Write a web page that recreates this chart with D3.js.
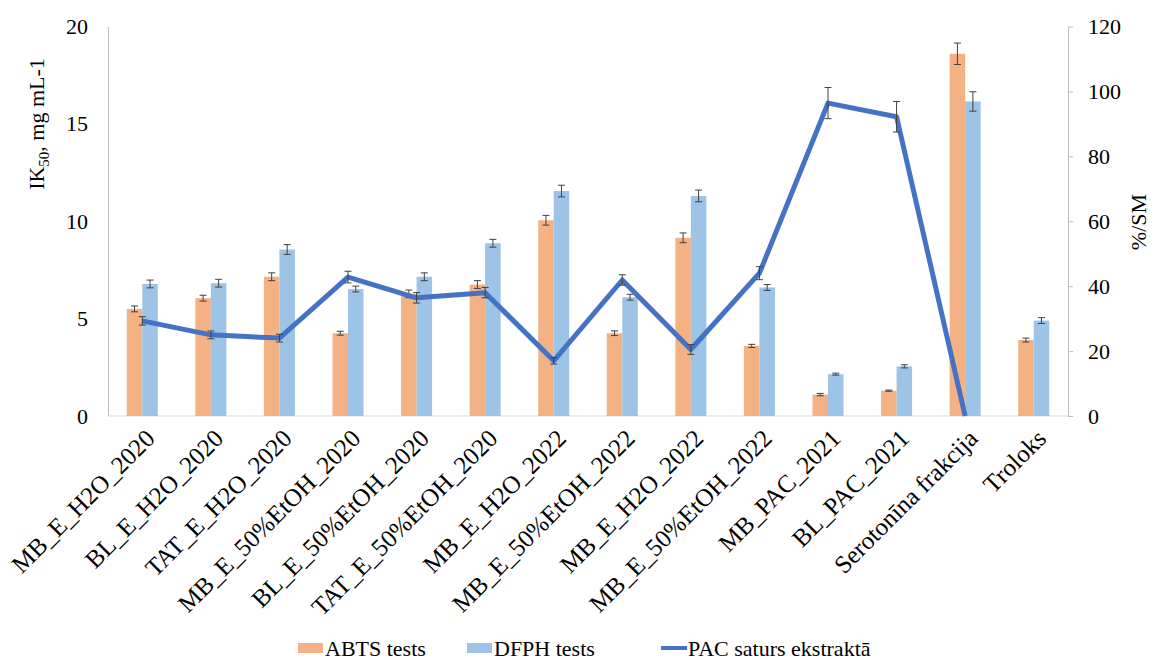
<!DOCTYPE html>
<html>
<head>
<meta charset="utf-8">
<script src="https://cdn.jsdelivr.net/npm/d3@7"></script>
<style>
  body { margin: 0; background: #fff; }
  svg text { font-family: "Liberation Serif", "Times New Roman", serif; fill: #000; }
</style>
</head>
<body>
<div id="chart"></div>
<script>
// data
var categories = ["MB_E_H2O_2020", "BL_E_H2O_2020", "TAT_E_H2O_2020", "MB_E_50%EtOH_2020",
  "BL_E_50%EtOH_2020", "TAT_E_50%EtOH_2020", "MB_E_H2O_2022", "MB_E_50%EtOH_2022",
  "MB_E_H2O_2022 ", "MB_E_50%EtOH_2022 ", "MB_PAC_2021", "BL_PAC_2021",
  "Serotonīna frakcija", "Troloks"];
var abts = [5.5, 6.05, 7.15, 4.25, 6.27, 6.75, 10.05, 4.25, 9.15, 3.6, 1.1, 1.3, 18.6, 3.9];
var abtsErr = [0.15, 0.15, 0.2, 0.1, 0.2, 0.2, 0.25, 0.12, 0.25, 0.08, 0.06, 0.03, 0.55, 0.1];
var dfph = [6.78, 6.82, 8.55, 6.52, 7.15, 8.87, 11.55, 6.1, 11.3, 6.6, 2.15, 2.55, 16.15, 4.9];
var dfphErr = [0.2, 0.2, 0.25, 0.15, 0.2, 0.2, 0.3, 0.15, 0.3, 0.15, 0.05, 0.08, 0.5, 0.15];
var pac = [29.3, 25, 24, 42.8, 36.4, 38, 17, 41.9, 20.5, 44, 96.4, 92.2, 0, null];
var pacErr = [1.3, 1.2, 1.2, 1.8, 1.6, 1.6, 1, 1.6, 1.5, 2, 4.8, 4.7, 0, null];
var leftTicks = [0, 5, 10, 15, 20];
var rightTicks = [0, 20, 40, 60, 80, 100, 120];

var W = 1154, H = 660;
var margin = {top: 26.5, right: 86, bottom: 244, left: 108};
var width = W - margin.left - margin.right;
var height = H - margin.top - margin.bottom;
var serif = '"Liberation Serif", "Times New Roman", serif';

var orange = "#F4B183", blue = "#9DC3E6", lineBlue = "#4472C4", errCol = "#404040";

var svg = d3.select("#chart").append("svg")
    .attr("width", W)
    .attr("height", H)
    .attr("font-family", serif);
var g = svg.append("g")
    .attr("transform", "translate(" + margin.left + "," + margin.top + ")");

var x = d3.scaleBand().domain(categories).range([0, width]).padding(0);
var y = d3.scaleLinear().domain([0, 20]).range([height, 0]);
var y2 = d3.scaleLinear().domain([0, 120]).range([height, 0]);
var barW = 15.5;

// left axis, no ticks
var yAxis = g.append("g").call(d3.axisLeft(y).tickValues(leftTicks).tickSize(0).tickPadding(20))
  .attr("font-family", serif).attr("font-size", 22);
yAxis.select(".domain").attr("stroke", "#bfbfbf");

// right axis
var y2Axis = g.append("g").attr("transform", "translate(" + width + ",0)")
    .call(d3.axisRight(y2).tickValues(rightTicks).tickSize(5).tickSizeOuter(0).tickPadding(15))
    .attr("font-family", serif).attr("font-size", 22);
y2Axis.select(".domain").attr("stroke", "#bfbfbf");
y2Axis.selectAll(".tick line").attr("stroke", "#bfbfbf");

// x axis baseline
g.append("line").attr("x1", 0).attr("x2", width).attr("y1", height).attr("y2", height)
  .attr("stroke", "#d9d9d9").attr("stroke-width", 1);

function cx(d, i) { return x(categories[i]) + x.bandwidth() / 2; }

// bars
g.selectAll(".abts").data(abts).enter().append("rect")
  .attr("x", function(d, i) { return cx(d, i) - barW; })
  .attr("y", function(d) { return y(d); })
  .attr("width", barW)
  .attr("height", function(d) { return height - y(d); })
  .attr("fill", orange);
g.selectAll(".dfph").data(dfph).enter().append("rect")
  .attr("x", function(d, i) { return cx(d, i); })
  .attr("y", function(d) { return y(d); })
  .attr("width", barW)
  .attr("height", function(d) { return height - y(d); })
  .attr("fill", blue);

function errorBars(vals, errs, scale, offset) {
  vals.forEach(function(v, i) {
    if (v == null || !errs[i]) return;
    var xm = cx(v, i) + offset;
    var eg = g.append("g").attr("stroke", errCol).attr("stroke-width", 1);
    eg.append("line").attr("x1", xm).attr("x2", xm)
      .attr("y1", scale(v - errs[i])).attr("y2", scale(v + errs[i]));
    [v - errs[i], v + errs[i]].forEach(function(e) {
      eg.append("line").attr("x1", xm - 3.5).attr("x2", xm + 3.5)
        .attr("y1", scale(e)).attr("y2", scale(e));
    });
  });
}
errorBars(abts, abtsErr, y, -barW / 2);
errorBars(dfph, dfphErr, y, barW / 2);

// PAC line
var line = d3.line()
  .defined(function(d) { return d != null; })
  .x(function(d, i) { return cx(d, i); })
  .y(function(d) { return y2(d); });
g.append("path").datum(pac)
  .attr("d", line)
  .attr("fill", "none")
  .attr("stroke", lineBlue)
  .attr("stroke-width", 5)
  .attr("stroke-linejoin", "round");
errorBars(pac, pacErr, y2, 0);

// x labels, rotated
g.selectAll(".xlab").data(categories).enter().append("text")
  .attr("text-anchor", "end")
  .attr("font-size", 25)
  .attr("font-family", serif)
  .attr("transform", function(d, i) {
    return "translate(" + (cx(d, i) + 14) + "," + (height + 24) + ") rotate(-45)";
  })
  .text(function(d) { return d.trim(); });

// axis titles
var lt = svg.append("text")
  .attr("font-size", 22)
  .attr("font-family", serif)
  .attr("text-anchor", "middle")
  .attr("transform", "translate(44,124) rotate(-90)");
lt.append("tspan").text("IK");
lt.append("tspan").attr("font-size", 15).attr("dy", 5).text("50");
lt.append("tspan").attr("dy", -5).text(", mg mL-1");

svg.append("text")
  .attr("font-size", 22)
  .attr("font-family", serif)
  .attr("text-anchor", "middle")
  .attr("transform", "translate(1146,222) rotate(-90)")
  .text("%/SM");

// legend
var legend = svg.append("g").attr("transform", "translate(0,648)");
var items = [
  {label: "ABTS tests", type: "rect", color: orange, x: 298},
  {label: "DFPH tests", type: "rect", color: blue, x: 467},
  {label: "PAC saturs ekstraktā", type: "line", color: lineBlue, x: 661}
];
items.forEach(function(it) {
  if (it.type == "rect") {
    legend.append("rect").attr("x", it.x).attr("y", -5).attr("width", 25).attr("height", 10).attr("fill", it.color);
  } else {
    legend.append("line").attr("x1", it.x).attr("x2", it.x + 26).attr("y1", 0).attr("y2", 0)
      .attr("stroke", it.color).attr("stroke-width", 4);
  }
  legend.append("text").attr("x", it.x + 27).attr("y", 8).attr("font-size", 22)
    .attr("font-family", serif).text(it.label);
});
</script>
</body>
</html>
